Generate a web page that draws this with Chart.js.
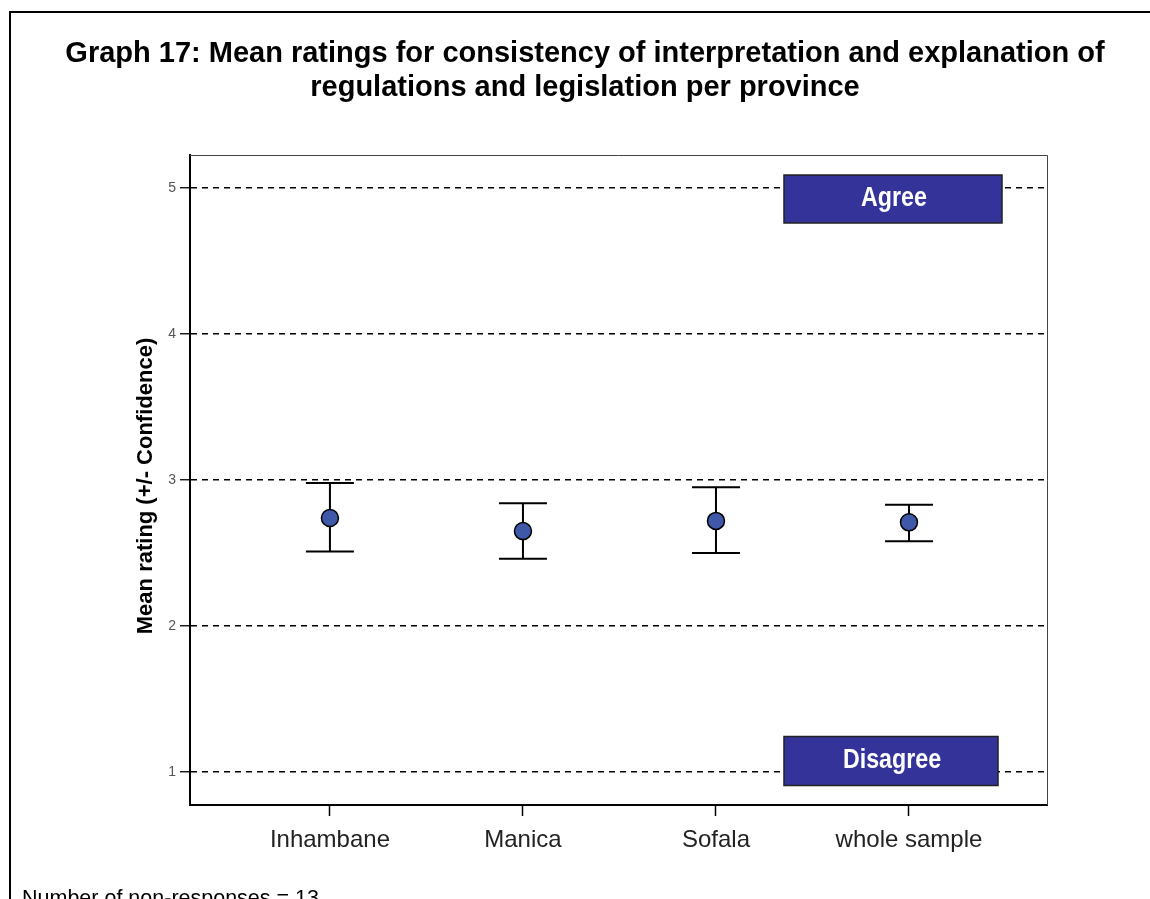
<!DOCTYPE html>
<html><head><meta charset="utf-8">
<script src="https://cdn.jsdelivr.net/npm/chart.js@4/dist/chart.umd.min.js"></script>
<style>html,body{margin:0;padding:0;background:#fff;overflow:hidden}canvas{display:block}</style>
</head><body>
<canvas id="c" width="1150" height="899"></canvas>
<script>
// ---- data ----
const categories = ['Inhambane', 'Manica', 'Sofala', 'whole sample'];
const means = [2.74, 2.65, 2.72, 2.71];
const lowerCI = [2.51, 2.46, 2.50, 2.58];
const upperCI = [2.98, 2.84, 2.95, 2.83];
const yTicks = [1, 2, 3, 4, 5];
const titleLines = ['Graph 17: Mean ratings for consistency of interpretation and explanation of', 'regulations and legislation per province'];
const yAxisTitle = 'Mean rating (+/- Confidence)';
const topBandLabel = 'Agree';
const bottomBandLabel = 'Disagree';
const footnote = 'Number of non-responses = 13';

const FONT = "'Liberation Sans', Arial, sans-serif";

const extras = {
  id: 'extras',
  beforeDatasetsDraw(chart) {
    const ctx = chart.ctx, a = chart.chartArea;
    const xs = chart.scales.x, ys = chart.scales.y;
    ctx.save();
    // plot frame top/right
    ctx.strokeStyle = '#444'; ctx.lineWidth = 1;
    ctx.beginPath();
    ctx.moveTo(a.left, a.top + 0.5); ctx.lineTo(a.right + 0.5, a.top + 0.5); ctx.lineTo(a.right + 0.5, a.bottom);
    ctx.stroke();
    // band boxes
    const drawBox = (label, l, r, cy, h) => {
      ctx.fillStyle = '#333399';
      ctx.fillRect(l, cy - h / 2, r - l, h);
      ctx.strokeStyle = '#222'; ctx.lineWidth = 1.5;
      ctx.strokeRect(l, cy - h / 2, r - l, h);
      ctx.save();
      ctx.fillStyle = '#fff';
      ctx.font = "bold 27px " + FONT;
      ctx.textAlign = 'center'; ctx.textBaseline = 'middle';
      ctx.translate((l + r) / 2 + 1, cy);
      ctx.scale(0.86, 1);
      ctx.fillText(label, 0, 0);
      ctx.restore();
    };
    drawBox(topBandLabel, a.right - 263, a.right - 45, ys.getPixelForValue(5) + 11, 48);
    drawBox(bottomBandLabel, a.right - 263, a.right - 49, ys.getPixelForValue(1) - 11, 49);
    // error bars
    ctx.strokeStyle = '#000'; ctx.lineWidth = 2;
    categories.forEach((c, i) => {
      const x = xs.getPixelForValue(i);
      const yl = ys.getPixelForValue(lowerCI[i]);
      const yu = ys.getPixelForValue(upperCI[i]);
      ctx.beginPath();
      ctx.moveTo(x, yl); ctx.lineTo(x, yu);
      ctx.moveTo(x - 24, yl); ctx.lineTo(x + 24, yl);
      ctx.moveTo(x - 24, yu); ctx.lineTo(x + 24, yu);
      ctx.stroke();
    });
    ctx.restore();
  },
  afterDraw(chart) {
    const ctx = chart.ctx;
    ctx.save();
    // outer frame
    ctx.strokeStyle = '#000'; ctx.lineWidth = 2;
    ctx.beginPath();
    ctx.moveTo(10, 899); ctx.lineTo(10, 12); ctx.lineTo(1150, 12);
    ctx.stroke();
    // title
    ctx.fillStyle = '#000';
    ctx.font = "bold 29px " + FONT;
    ctx.textAlign = 'center'; ctx.textBaseline = 'alphabetic';
    ctx.fillText(titleLines[0], 585, 62);
    ctx.fillText(titleLines[1], 585, 96);
    // y axis title
    ctx.font = "bold 22px " + FONT;
    ctx.textAlign = 'center'; ctx.textBaseline = 'middle';
    ctx.translate(146, 486);
    ctx.rotate(-Math.PI / 2);
    ctx.fillText(yAxisTitle, 0, 0);
    ctx.setTransform(1, 0, 0, 1, 0, 0);
    // footnote
    ctx.font = "21.5px " + FONT;
    ctx.textAlign = 'left'; ctx.textBaseline = 'alphabetic';
    ctx.fillText(footnote, 22, 905);
    ctx.restore();
  }
};

new Chart(document.getElementById('c'), {
  type: 'scatter',
  data: {
    datasets: [{
      data: categories.map((c, i) => ({ x: i, y: means[i] })),
      pointRadius: 8.5,
      pointHoverRadius: 8.5,
      backgroundColor: '#3F58A8',
      borderColor: '#000',
      borderWidth: 1.5,
      showLine: false
    }]
  },
  options: {
    responsive: false,
    animation: false,
    devicePixelRatio: 1,
    events: [],
    layout: { padding: { left: 0, right: 103, top: 155, bottom: 0 } },
    plugins: {
      legend: { display: false },
      tooltip: { enabled: false },
      title: { display: false }
    },
    scales: {
      x: {
        type: 'linear',
        position: 'bottom',
        min: -0.725,
        max: 3.715,
        afterBuildTicks: s => { s.ticks = categories.map((c, i) => ({ value: i })); },
        afterFit: s => { s.height = 94; },
        ticks: {
          callback: v => categories[v],
          font: { family: FONT, size: 24 },
          color: '#222',
          padding: 10,
          maxRotation: 0,
          autoSkip: false
        },
        grid: { drawOnChartArea: false, drawTicks: true, tickLength: 11, tickColor: '#000', tickWidth: 1.5 },
        border: { display: true, color: '#000', width: 2 }
      },
      y: {
        type: 'linear',
        min: 0.774,
        max: 5.226,
        afterBuildTicks: s => { s.ticks = yTicks.map(v => ({ value: v })); },
        afterFit: s => { s.width = 190; },
        ticks: {
          callback: v => String(v),
          font: { family: FONT, size: 14 },
          color: '#555',
          padding: 4
        },
        grid: {
          color: '#000',
          lineWidth: 1.5,
          tickBorderDash: [],
          tickColor: '#000',
          tickWidth: 1.3,
          tickLength: 10
        },
        border: { display: true, color: '#000', width: 2, dash: [6, 5] }
      }
    }
  },
  plugins: [extras]
});
</script>
</body></html>
